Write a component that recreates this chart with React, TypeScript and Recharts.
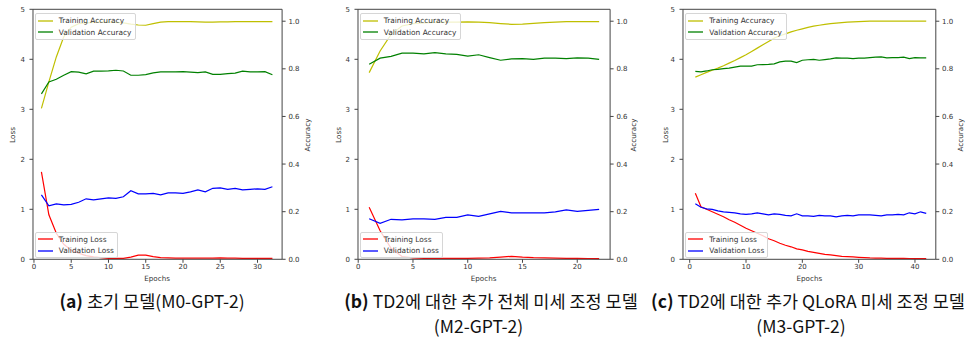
import { LineChart, Line, XAxis, YAxis, ReferenceLine } from 'recharts';

// (a) M0-GPT-2
const epochsA = [1, 2, 3, 4, 5, 6, 7, 8, 9, 10, 11, 12, 13, 14, 15, 16, 17, 18, 19, 20, 21, 22, 23, 24, 25, 26, 27, 28, 29, 30, 31, 32];
const trainAccA = [0.634, 0.745, 0.85, 0.935, 0.975, 0.99, 0.993, 0.995, 0.996, 0.996, 0.995, 0.993, 0.988, 0.984, 0.983, 0.99, 0.996, 0.998, 0.998, 0.998, 0.998, 0.997, 0.996, 0.996, 0.997, 0.997, 0.998, 0.998, 0.998, 0.998, 0.998, 0.998];
const valAccA = [0.695, 0.745, 0.756, 0.773, 0.788, 0.786, 0.779, 0.79, 0.79, 0.791, 0.794, 0.791, 0.773, 0.773, 0.776, 0.783, 0.787, 0.787, 0.787, 0.788, 0.786, 0.784, 0.787, 0.777, 0.777, 0.78, 0.782, 0.79, 0.787, 0.787, 0.788, 0.775];
const trainLossA = [1.75, 0.89, 0.52, 0.3, 0.18, 0.12, 0.073, 0.05, 0.035, 0.02, 0.02, 0.02, 0.045, 0.085, 0.085, 0.055, 0.033, 0.028, 0.025, 0.025, 0.022, 0.022, 0.025, 0.025, 0.027, 0.025, 0.022, 0.02, 0.02, 0.02, 0.02, 0.02];
const valLossA = [1.29, 1.07, 1.11, 1.09, 1.1, 1.14, 1.21, 1.19, 1.21, 1.23, 1.22, 1.25, 1.37, 1.31, 1.31, 1.32, 1.29, 1.33, 1.33, 1.32, 1.35, 1.39, 1.35, 1.42, 1.43, 1.4, 1.42, 1.39, 1.4, 1.41, 1.4, 1.45];

// (b) M2-GPT-2
const epochsB = [1, 2, 3, 4, 5, 6, 7, 8, 9, 10, 11, 12, 13, 14, 15, 16, 17, 18, 19, 20, 21, 22];
const trainAccB = [0.784, 0.875, 0.945, 0.98, 0.99, 0.993, 0.995, 0.996, 0.996, 0.997, 0.996, 0.994, 0.99, 0.987, 0.988, 0.991, 0.994, 0.996, 0.998, 0.998, 0.998, 0.998];
const valAccB = [0.819, 0.845, 0.852, 0.866, 0.866, 0.863, 0.868, 0.863, 0.861, 0.853, 0.859, 0.847, 0.836, 0.842, 0.843, 0.84, 0.845, 0.845, 0.843, 0.846, 0.845, 0.84];
const trainLossB = [1.04, 0.57, 0.22, 0.055, 0.027, 0.02, 0.02, 0.018, 0.018, 0.02, 0.022, 0.028, 0.045, 0.06, 0.045, 0.035, 0.03, 0.025, 0.02, 0.018, 0.016, 0.015];
const valLossB = [0.81, 0.72, 0.8, 0.79, 0.81, 0.81, 0.8, 0.84, 0.84, 0.89, 0.86, 0.91, 0.96, 0.93, 0.93, 0.93, 0.93, 0.95, 0.99, 0.96, 0.98, 1.0];

// (c) M3-GPT-2 (QLoRA)
const epochsC = [1, 2, 3, 4, 5, 6, 7, 8, 9, 10, 11, 12, 13, 14, 15, 16, 17, 18, 19, 20, 21, 22, 23, 24, 25, 26, 27, 28, 29, 30, 31, 32, 33, 34, 35, 36, 37, 38, 39, 40, 41, 42];
const trainAccC = [0.765, 0.775, 0.785, 0.794, 0.803, 0.813, 0.824, 0.835, 0.847, 0.859, 0.873, 0.887, 0.901, 0.915, 0.929, 0.939, 0.947, 0.955, 0.962, 0.968, 0.974, 0.979, 0.983, 0.987, 0.99, 0.992, 0.994, 0.996, 0.997, 0.998, 0.999, 1.0, 1.0, 1.0, 1.0, 1.0, 1.0, 1.0, 1.0, 1.0, 1.0, 1.0];
const valAccC = [0.789, 0.787, 0.791, 0.796, 0.798, 0.801, 0.803, 0.807, 0.811, 0.811, 0.811, 0.817, 0.818, 0.819, 0.821, 0.829, 0.832, 0.832, 0.826, 0.836, 0.838, 0.84, 0.836, 0.839, 0.842, 0.846, 0.845, 0.845, 0.843, 0.845, 0.845, 0.847, 0.849, 0.85, 0.846, 0.847, 0.847, 0.849, 0.843, 0.847, 0.846, 0.846];
const trainLossC = [1.32, 1.05, 1.0, 0.95, 0.9, 0.85, 0.79, 0.74, 0.68, 0.62, 0.57, 0.52, 0.47, 0.41, 0.37, 0.32, 0.28, 0.25, 0.21, 0.19, 0.16, 0.14, 0.12, 0.1, 0.087, 0.073, 0.06, 0.053, 0.047, 0.04, 0.033, 0.027, 0.024, 0.022, 0.02, 0.019, 0.018, 0.017, 0.016, 0.015, 0.015, 0.014];
const valLossC = [1.11, 1.04, 1.01, 1.0, 0.97, 0.95, 0.94, 0.93, 0.91, 0.9, 0.91, 0.93, 0.91, 0.89, 0.91, 0.9, 0.88, 0.87, 0.91, 0.87, 0.87, 0.86, 0.88, 0.87, 0.87, 0.85, 0.87, 0.88, 0.87, 0.89, 0.89, 0.89, 0.88, 0.87, 0.89, 0.89, 0.9, 0.89, 0.93, 0.91, 0.95, 0.92];

const lossTicks = [0, 1, 2, 3, 4, 5];
const accTicks = [0, 0.2, 0.4, 0.6, 0.8, 1.0];

const C_TRAIN_ACC = '#bfbf00';
const C_VAL_ACC = '#008000';
const C_TRAIN_LOSS = '#ff0000';
const C_VAL_LOSS = '#0000ff';

const MPL_FONT = "'DejaVu Sans', sans-serif";
const KR_FONT = "'Noto Sans CJK KR', 'Noto Sans', sans-serif";
const AXIS_COLOR = '#444';
const TEXT_COLOR = '#333';

const PLOT_TOP = 9.3;
const PLOT_BOTTOM = 259.3;
const SIDE = 40;

type PanelProps = {
  epochs: number[];
  trainAcc: number[];
  valAcc: number[];
  trainLoss: number[];
  valLoss: number[];
  plotLeft: number;
  plotRight: number;
  xDomain: [number, number];
  xTicks: number[];
  lossLabelX: number;
  accLabelX: number;
};

function LegendBox({
  left,
  top,
  width,
  items,
}: {
  left: number;
  top: number;
  width: number;
  items: { label: string; color: string }[];
}) {
  return (
    <div
      style={{
        position: 'absolute',
        left,
        top,
        width,
        padding: '1px 0',
        background: 'rgba(255,255,255,0.8)',
        border: '1px solid #d6d6d6',
        borderRadius: 2,
        boxSizing: 'border-box',
      }}
    >
      {items.map((it) => (
        <div
          key={it.label}
          style={{ display: 'flex', alignItems: 'center', height: 11.3 }}
        >
          <svg width={20} height={6} style={{ marginLeft: 2, flex: 'none' }}>
            <line x1={0} y1={3} x2={15} y2={3} stroke={it.color} strokeWidth={1.3} />
          </svg>
          <span
            style={{
              fontFamily: MPL_FONT,
              fontSize: 7.4,
              color: TEXT_COLOR,
              marginLeft: 1,
              whiteSpace: 'nowrap',
            }}
          >
            {it.label}
          </span>
        </div>
      ))}
    </div>
  );
}

function AxisText({
  x,
  y,
  text,
  rotate,
}: {
  x: number;
  y: number;
  text: string;
  rotate?: boolean;
}) {
  return (
    <div
      style={{
        position: 'absolute',
        left: x - 40,
        top: y - 6,
        width: 80,
        height: 12,
        lineHeight: '12px',
        textAlign: 'center',
        fontFamily: MPL_FONT,
        fontSize: 7.2,
        color: TEXT_COLOR,
        transform: rotate ? 'rotate(-90deg)' : undefined,
      }}
    >
      {text}
    </div>
  );
}

function TrainingPanel(p: PanelProps) {
  const rows = p.epochs.map((e, i) => ({
    epoch: e,
    trainAcc: p.trainAcc[i],
    valAcc: p.valAcc[i],
    trainLoss: p.trainLoss[i],
    valLoss: p.valLoss[i],
  }));
  const chartLeft = p.plotLeft - SIDE;
  const chartWidth = p.plotRight - p.plotLeft + SIDE * 2;
  const tickStyle = { fontSize: 7, fontFamily: MPL_FONT, fill: TEXT_COLOR };

  return (
    <>
      <div style={{ position: 'absolute', left: chartLeft, top: 0 }}>
        <LineChart
          width={chartWidth}
          height={PLOT_BOTTOM + 20}
          data={rows}
          margin={{ top: PLOT_TOP, right: 0, bottom: 0, left: 0 }}
        >
          <XAxis
            dataKey="epoch"
            type="number"
            domain={p.xDomain}
            ticks={p.xTicks}
            allowDataOverflow
            height={20}
            tick={tickStyle}
            tickSize={3.5}
            tickMargin={1}
            stroke={AXIS_COLOR}
            interval={0}
          />
          <YAxis
            yAxisId="left"
            domain={[0, 5]}
            ticks={lossTicks}
            width={SIDE}
            tick={tickStyle}
            tickSize={3.5}
            tickMargin={4.5}
            stroke={AXIS_COLOR}
            interval={0}
          />
          <YAxis
            yAxisId="right"
            orientation="right"
            domain={[0, 1.05]}
            ticks={accTicks}
            width={SIDE}
            tick={tickStyle}
            tickSize={3.5}
            tickMargin={2.8}
            tickFormatter={(v: number) => v.toFixed(1)}
            stroke={AXIS_COLOR}
            interval={0}
            allowDataOverflow
          />
          <ReferenceLine yAxisId="left" y={5} stroke={AXIS_COLOR} />
          <Line
            yAxisId="left"
            dataKey="trainLoss"
            stroke={C_TRAIN_LOSS}
            strokeWidth={1.2}
            dot={false}
            type="linear"
            isAnimationActive={false}
          />
          <Line
            yAxisId="left"
            dataKey="valLoss"
            stroke={C_VAL_LOSS}
            strokeWidth={1.2}
            dot={false}
            type="linear"
            isAnimationActive={false}
          />
          <Line
            yAxisId="right"
            dataKey="trainAcc"
            stroke={C_TRAIN_ACC}
            strokeWidth={1.2}
            dot={false}
            type="linear"
            isAnimationActive={false}
          />
          <Line
            yAxisId="right"
            dataKey="valAcc"
            stroke={C_VAL_ACC}
            strokeWidth={1.2}
            dot={false}
            type="linear"
            isAnimationActive={false}
          />
        </LineChart>
      </div>
      <LegendBox
        left={p.plotLeft + 2.2}
        top={13.3}
        width={101.5}
        items={[
          { label: 'Training Accuracy', color: C_TRAIN_ACC },
          { label: 'Validation Accuracy', color: C_VAL_ACC },
        ]}
      />
      <LegendBox
        left={p.plotLeft + 2.2}
        top={231.7}
        width={83}
        items={[
          { label: 'Training Loss', color: C_TRAIN_LOSS },
          { label: 'Validation Loss', color: C_VAL_LOSS },
        ]}
      />
      <AxisText x={p.lossLabelX} y={135} text="Loss" rotate />
      <AxisText x={p.accLabelX} y={135} text="Accuracy" rotate />
      <AxisText x={(p.plotLeft + p.plotRight) / 2} y={279} text="Epochs" />
    </>
  );
}

function Caption({
  cx,
  y,
  tag,
  text,
}: {
  cx: number;
  y: number;
  tag?: string;
  text: string;
}) {
  return (
    <div
      style={{
        position: 'absolute',
        left: cx - 200,
        top: y - 12,
        width: 400,
        height: 24,
        lineHeight: '24px',
        textAlign: 'center',
        fontFamily: KR_FONT,
        fontSize: 17.5,
        color: '#111',
        whiteSpace: 'nowrap',
      }}
    >
      {tag && <b>{tag} </b>}
      {text}
    </div>
  );
}

export default function App() {
  return (
    <div
      style={{
        position: 'absolute',
        left: 0,
        top: 0,
        width: 974,
        height: 339,
        background: '#fff',
        overflow: 'hidden',
      }}
    >
      <TrainingPanel
        epochs={epochsA}
        trainAcc={trainAccA}
        valAcc={valAccA}
        trainLoss={trainLossA}
        valLoss={valLossA}
        plotLeft={32.6}
        plotRight={281.7}
        xDomain={[-0.13, 33.3]}
        xTicks={[0, 5, 10, 15, 20, 25, 30]}
        lossLabelX={13.4}
        accLabelX={307.6}
      />
      <TrainingPanel
        epochs={epochsB}
        trainAcc={trainAccB}
        valAcc={valAccB}
        trainLoss={trainLossB}
        valLoss={valLossB}
        plotLeft={357.6}
        plotRight={609.7}
        xDomain={[-0.02, 23]}
        xTicks={[0, 5, 10, 15, 20]}
        lossLabelX={339.2}
        accLabelX={634.3}
      />
      <TrainingPanel
        epochs={epochsC}
        trainAcc={trainAccC}
        valAcc={valAccC}
        trainLoss={trainLossC}
        valLoss={valLossC}
        plotLeft={683}
        plotRight={935.8}
        xDomain={[-1.19, 43.7]}
        xTicks={[0, 10, 20, 30, 40]}
        lossLabelX={665.9}
        accLabelX={961}
      />
      <Caption cx={152} y={301} tag="(a)" text="초기 모델(M0-GPT-2)" />
      <Caption cx={491} y={301} tag="(b)" text="TD2에 대한 추가 전체 미세 조정 모델" />
      <Caption cx={478.5} y={326} text="(M2-GPT-2)" />
      <Caption cx={808} y={301} tag="(c)" text="TD2에 대한 추가 QLoRA 미세 조정 모델" />
      <Caption cx={801} y={326} text="(M3-GPT-2)" />
    </div>
  );
}
